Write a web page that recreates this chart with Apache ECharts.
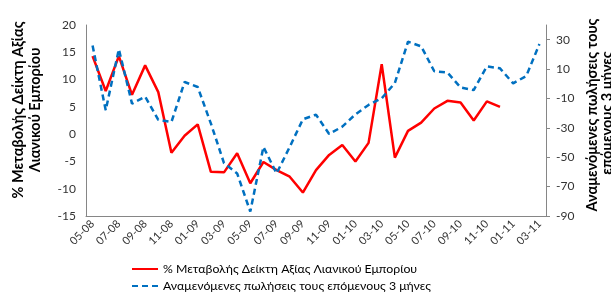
<!DOCTYPE html>
<html>
<head>
<meta charset="utf-8">
<script src="https://cdn.jsdelivr.net/npm/echarts@6/dist/echarts.min.js"></script>
<style>
  html, body { margin: 0; padding: 0; background: #fff; }
  #chart { width: 611px; height: 292px; }
</style>
</head>
<body>
<div id="chart"></div>
<script>
// months May 2008 .. March 2011
const months = [
  "05-08", "06-08", "07-08", "08-08", "09-08", "10-08", "11-08", "12-08",
  "01-09", "02-09", "03-09", "04-09", "05-09", "06-09", "07-09", "08-09",
  "09-09", "10-09", "11-09", "12-09", "01-10", "02-10", "03-10", "04-10",
  "05-10", "06-10", "07-10", "08-10", "09-10", "10-10", "11-10", "12-10",
  "01-11", "02-11", "03-11"
];

// % change of retail trade value index (left axis)
const retailChange = [
  14.3, 7.9, 14.3, 7.2, 12.6, 7.7, -3.4, -0.3, 1.8,
  -6.9, -7.0, -3.5, -9.0, -5.1, -6.6, -7.8, -10.7, -6.6,
  -3.8, -2.0, -5.0, -1.6, 12.8, -4.3, 0.6, 2.1, 4.7,
  6.1, 5.8, 2.5, 6.0, 5.0, null, null, null
];

// expected sales over the next 3 months (right axis)
const expectedSales = [
  26, -18, 23.5, -13.5, -8.8, -24.5, -26, 1.2, -2.2,
  -27, -54, -61, -87, -43, -61, -43, -24.2, -21,
  -34.2, -29.2, -20.8, -14.4, -9.9, 0.5, 28.6, 25.5, 8.5,
  7.7, -2.5, -4.3, 11.8, 10.5, 0.3, 5.3, 27
];

const seriesNames = [
  "% Μεταβολής Δείκτη Αξίας Λιανικού Εμπορίου",
  "Αναμενόμενες πωλήσεις τους επόμενους 3 μήνες"
];

const FONT = "Lato, 'Open Sans', sans-serif";
const axisGray = "#868686";

const chart = echarts.init(document.getElementById("chart"));

const titleStyle = { fontFamily: FONT, fontSize: 14.5, fontWeight: "bold", fill: "#000" };

// one legend per row so they stack like the original
const legendRow = (name, top) => ({
  left: 126,
  top: top,
  itemWidth: 26,
  itemHeight: 12,
  itemGap: 4,
  itemStyle: { opacity: 0 },
  textStyle: { fontFamily: FONT, fontSize: 12.3, color: "#000" },
  data: [name]
});

chart.setOption({
  animation: false,
  textStyle: { fontFamily: FONT },
  grid: { left: 86, right: 65, top: 25, bottom: 76 },
  legend: [legendRow(seriesNames[0], 258), legendRow(seriesNames[1], 275)],
  xAxis: {
    type: "category",
    data: months,
    boundaryGap: true,
    axisLine: { onZero: false, lineStyle: { color: axisGray, width: 1 } },
    axisTick: { show: false },
    axisLabel: {
      interval: 1,
      rotate: 45,
      margin: 6,
      fontSize: 11,
      color: "#333",
      fontFamily: FONT
    }
  },
  yAxis: [
    {
      type: "value",
      min: -15,
      max: 20,
      interval: 5,
      splitLine: { show: false },
      axisLine: { show: true, lineStyle: { color: axisGray } },
      axisTick: { show: false },
      axisLabel: { fontSize: 12, color: "#333", margin: 10, fontFamily: FONT }
    },
    {
      type: "value",
      min: -90,
      max: 40,
      interval: 20,
      splitLine: { show: false },
      axisLine: { show: true, lineStyle: { color: axisGray } },
      axisTick: { show: true, inside: false, length: 4, lineStyle: { color: axisGray } },
      axisLabel: { fontSize: 12, color: "#333", margin: 10, showMaxLabel: false, fontFamily: FONT }
    }
  ],
  series: [
    {
      name: seriesNames[0],
      type: "line",
      yAxisIndex: 0,
      data: retailChange,
      symbol: "none",
      connectNulls: false,
      lineStyle: { color: "#ff0000", width: 2.5 },
      itemStyle: { color: "#ff0000" }
    },
    {
      name: seriesNames[1],
      type: "line",
      yAxisIndex: 1,
      data: expectedSales,
      symbol: "none",
      lineStyle: { color: "#0070c0", width: 2.5, type: [6, 4] },
      itemStyle: { color: "#0070c0" }
    }
  ],
  graphic: [
    {
      type: "text", x: 18, y: 110, rotation: Math.PI / 2,
      style: Object.assign({ text: "% Μεταβολής Δείκτη Αξίας", align: "center", verticalAlign: "middle" }, titleStyle)
    },
    {
      type: "text", x: 35, y: 110, rotation: Math.PI / 2,
      style: Object.assign({ text: "Λιανικού Εμπορίου", align: "center", verticalAlign: "middle" }, titleStyle)
    },
    {
      type: "text", x: 592, y: 115, rotation: Math.PI / 2,
      style: Object.assign({ text: "Αναμενόμενες πωλήσεις τους", align: "center", verticalAlign: "middle" }, titleStyle)
    },
    {
      type: "text", x: 607, y: 113, rotation: Math.PI / 2,
      style: Object.assign({ text: "επόμενους 3 μήνες", align: "center", verticalAlign: "middle" }, titleStyle)
    }
  ]
});
</script>
</body>
</html>
